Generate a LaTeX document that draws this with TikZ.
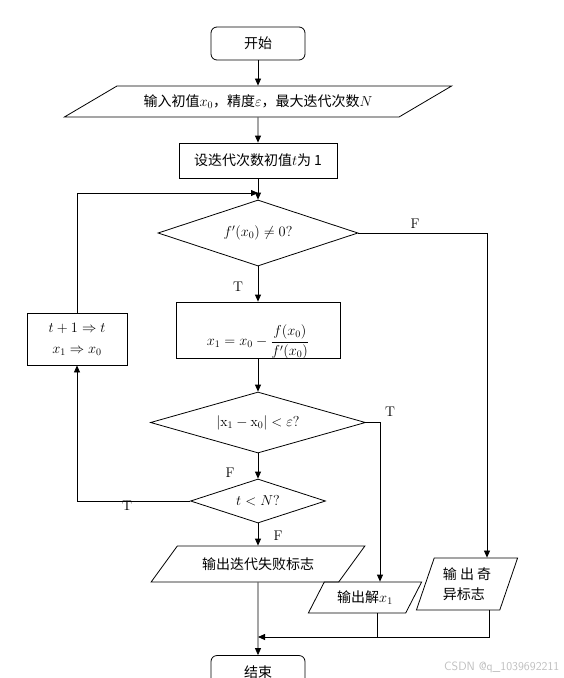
\documentclass[tikz,border=0pt]{standalone}
\usepackage{fontspec}
\newfontfamily\cjk{Noto Sans CJK SC}
\usetikzlibrary{arrows.meta, shapes.geometric}

\begin{document}
\begin{tikzpicture}[
    x=1pt, y=-1pt,
    line width=0.8pt,
    every node/.style={font=\fontsize{14}{17}\selectfont},
    zh/.style={font=\fontsize{14}{17}\selectfont\cjk},
    block/.style={rectangle, draw, inner sep=2pt},
    startstop/.style={rectangle, rounded corners=6pt, draw, zh, minimum width=94pt, minimum height=33pt},
    io/.style={trapezium, trapezium stretches=true, draw, inner sep=2pt},
    decision/.style={diamond, draw, aspect=3, inner sep=1pt},
    tf/.style={inner sep=0pt},
    arrow/.style={draw, -{Triangle[length=7pt, width=6pt]}}
]
\useasboundingbox (0,0) rectangle (564,678);
\clip (0,0) rectangle (564,678);

% Knoten
\node[startstop] (start) at (258,43.5) {开始};
\node[io, zh, trapezium left angle=22.5, trapezium right angle=157.5,
    minimum width=389pt, minimum height=31pt] (input) at (258,101.5)
    {输入初值$x_0$，精度$\varepsilon$，最大迭代次数$N$};
\node[block, zh, minimum width=158pt, minimum height=35pt] (init) at (258,160.5) {设迭代次数初值$t$为 1};
\node[decision, minimum width=200pt, minimum height=66pt] (d1) at (258,233) {$f'(x_0)\neq 0?$};
\node[block, minimum width=164pt, minimum height=56pt,
    path picture={\node at ([yshift=-12pt]path picture bounding box.center)
        {$\displaystyle x_1=x_0-\frac{f(x_0)}{f'(x_0)}$};}] (newton) at (258,330) {\strut};
\node[decision, minimum width=215pt, minimum height=61pt] (d2) at (258,422.5) {$|\mathrm{x}_1-\mathrm{x}_0|<\varepsilon?$};
\node[decision, minimum width=135pt, minimum height=44pt] (d3) at (258,501) {$t<N?$};
\node[block, minimum width=100pt, minimum height=52pt, align=center] (incr) at (77,339)
    {$t+1\Rightarrow t$\\[4pt]$x_1\Rightarrow x_0$};
\node[io, zh, trapezium left angle=42, trapezium right angle=138,
    minimum width=214pt, minimum height=36pt] (fail) at (258,564) {输出迭代失败标志};
\node[io, zh, trapezium left angle=57, trapezium right angle=123,
    minimum width=114pt, minimum height=31pt] (sol) at (365,597.5) {输出解$x_1$};
\node[io, zh, trapezium left angle=69, trapezium right angle=111,
    minimum width=102pt, minimum height=52pt, align=left] (sing) at (467,584) {输\ 出\ 奇\\[3pt]异标志};
\node[startstop] (end) at (258,672) {结束};

\coordinate (join) at (258,193);
\coordinate (loopc) at (77,193);
\coordinate (fcorner) at (487,233);
\coordinate (tcorner) at (380,422.5);
\coordinate (merge) at (258,637);
\coordinate (m1) at (377,637);
\coordinate (m2) at (489,637);

% Verbindungen
\draw[arrow] (start) -- (input);
\draw[arrow] (input) -- (init);
\draw[arrow] (init) -- (d1);
\draw[arrow] (d1) -- (newton);
\draw[arrow] (newton) -- (d2);
\draw[arrow] (d2) -- (d3);
\draw[arrow] (d3) -- (fail);
\draw[arrow] (fail) -- (end);
\draw[arrow] (d3.west) -- (d3.west -| incr) -- (incr);
\draw[arrow] (incr) -- (loopc) -- (join);
\draw[arrow] (d1.east) -- (fcorner) -- (fcorner |- sing.north);
\draw[arrow] (d2.east) -- (tcorner) -- (tcorner |- sol.north);
\draw (m1 |- sol.south) -- (m1);
\draw[arrow] (m2 |- sing.south) -- (m2) -- (merge);

\node[tf] (f1) at (415,224) {F};
\node[tf] (t1) at (238,287) {T};
\node[tf] (t2) at (390,412) {T};
\node[tf] (f2) at (230,473) {F};
\node[tf] (t3) at (127,506) {T};
\node[tf] (f3) at (278,536) {F};

\node[anchor=east, text=gray!50, font=\sffamily\fontsize{12}{14}\selectfont] (mark) at (563,667) {CSDN @q\_1039692211};

\end{tikzpicture}
\end{document}
